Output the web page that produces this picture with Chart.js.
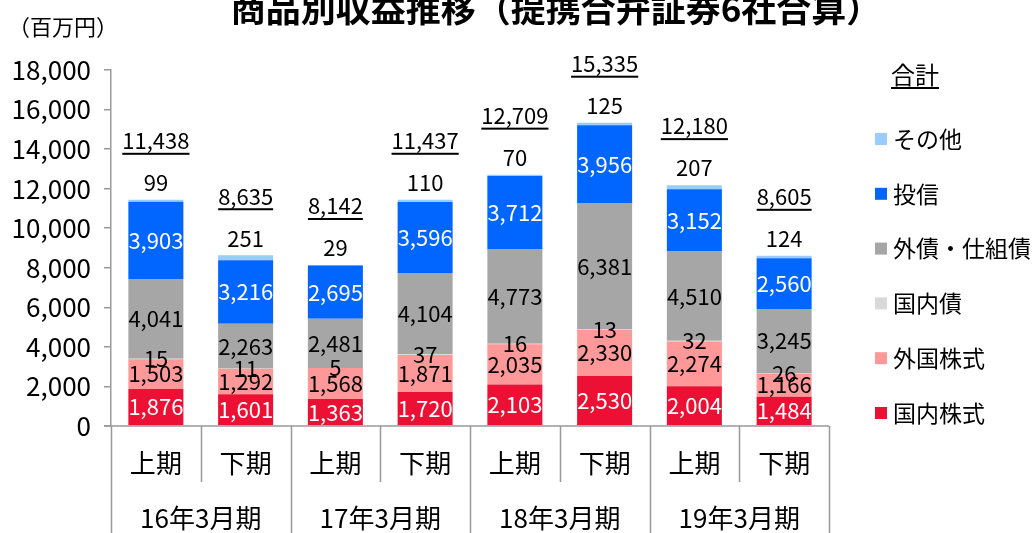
<!DOCTYPE html>
<html lang="ja">
<head>
<meta charset="utf-8">
<script src="https://cdn.jsdelivr.net/npm/chart.js@4"></script>
<style>
  body { margin: 0; background: #fff; }
  #wrap { width: 1034px; height: 533px; position: relative; }
</style>
</head>
<body>
<div id="wrap"><canvas id="revChart"></canvas></div>
<script>
const halves = ['上期', '下期', '上期', '下期', '上期', '下期', '上期', '下期'];
const years = ['16年3月期', '17年3月期', '18年3月期', '19年3月期'];

const domesticStock = [1876, 1601, 1363, 1720, 2103, 2530, 2004, 1484];
const foreignStock = [1503, 1292, 1568, 1871, 2035, 2330, 2274, 1166];
const domesticBond = [15, 11, 5, 37, 16, 13, 32, 26];
const foreignBond = [4041, 2263, 2481, 4104, 4773, 6381, 4510, 3245];
const investTrust = [3903, 3216, 2695, 3596, 3712, 3956, 3152, 2560];
const others = [99, 251, 29, 110, 70, 125, 207, 124];
const totals = [11438, 8635, 8142, 11437, 12709, 15335, 12180, 8605];

const yTicks = [0, 2000, 4000, 6000, 8000, 10000, 12000, 14000, 16000, 18000];

const FONT = '"Noto Sans CJK JP", "Noto Sans", sans-serif';
const fmt = v => v.toLocaleString('en-US');

const series = [
    { label: '国内株式', data: domesticStock, color: '#EC1034', text: '#fff' },
    { label: '外国株式', data: foreignStock, color: '#FF9999', text: '#000' },
    { label: '国内債', data: domesticBond, color: '#D9D9D9', text: '#000' },
    { label: '外債・仕組債', data: foreignBond, color: '#A6A6A6', text: '#000' },
    { label: '投信', data: investTrust, color: '#0066FF', text: '#fff' },
    { label: 'その他', data: others, color: '#99CCFF', text: '#000' }
];

function underlined(ctx, text, x, y) {
    ctx.fillText(text, x, y);
    const w = ctx.measureText(text).width;
    ctx.fillRect(x - w / 2, y + 12, w, 2);
}

const decorations = {
    id: 'decorations',
    afterDatasetsDraw(chart) {
        const ctx = chart.ctx;
        const area = chart.chartArea;
        const xs = chart.scales.x;
        ctx.save();
        ctx.textAlign = 'center';
        ctx.textBaseline = 'middle';

        // segment labels
        ctx.font = '22px ' + FONT;
        series.forEach((s, i) => {
            const meta = chart.getDatasetMeta(i);
            meta.data.forEach((el, j) => {
                if (i === series.length - 1) {
                    ctx.fillStyle = '#000';
                    ctx.fillText(fmt(s.data[j]), el.x, el.y - 17);
                    underlined(ctx, fmt(totals[j]), el.x, el.y - 59);
                } else {
                    ctx.fillStyle = s.text;
                    ctx.fillText(fmt(s.data[j]), el.x, (el.y + el.base) / 2);
                }
            });
        });

        // x axis line and separators
        ctx.strokeStyle = '#999';
        ctx.lineWidth = 1.5;
        ctx.beginPath();
        ctx.moveTo(area.left - 7, area.bottom);
        ctx.lineTo(area.right, area.bottom);
        const step = (area.right - area.left) / halves.length;
        for (let k = 0; k <= halves.length; k++) {
            const x = Math.round(area.left + k * step) + 0.5;
            ctx.moveTo(x, area.bottom);
            ctx.lineTo(x, k % 2 === 0 ? chart.height : area.bottom + 56);
        }
        ctx.stroke();

        ctx.fillStyle = '#000';
        ctx.font = '26px ' + FONT;
        halves.forEach((h, j) => {
            ctx.fillText(h, xs.getPixelForValue(j), area.bottom + 37);
        });
        years.forEach((y, k) => {
            const x = (xs.getPixelForValue(2 * k) + xs.getPixelForValue(2 * k + 1)) / 2;
            ctx.fillText(y, x, area.bottom + 92);
        });

        // title and unit
        ctx.font = 'bold 35px ' + FONT;
        ctx.fillText('商品別収益推移（提携合弁証券6社合算）', 556, 9);
        ctx.font = '22px ' + FONT;
        ctx.textAlign = 'left';
        ctx.fillText('（百万円）', 8, 27);

        // legend
        ctx.font = '24px ' + FONT;
        ctx.fillText('合計', 891, 75);
        ctx.fillRect(891, 87, ctx.measureText('合計').width, 2);
        ctx.font = '23px ' + FONT;
        const order = series.slice().reverse();
        order.forEach((s, k) => {
            const y = 139 + k * 54.8;
            ctx.fillStyle = s.color;
            ctx.fillRect(875, y - 6, 12, 12);
            ctx.fillStyle = '#000';
            ctx.fillText(s.label, 893, y);
        });
        ctx.restore();
    }
};

new Chart(document.getElementById('revChart'), {
    type: 'bar',
    data: {
        labels: halves,
        datasets: series.map(s => ({
            label: s.label,
            data: s.data,
            backgroundColor: s.color,
            barPercentage: 0.613,
            categoryPercentage: 1
        }))
    },
    options: {
        responsive: true,
        maintainAspectRatio: false,
        animation: false,
        layout: { padding: { top: 70, right: 205, bottom: 107, left: 0 } },
        plugins: {
            legend: { display: false },
            tooltip: { enabled: false }
        },
        scales: {
            x: { stacked: true, display: false },
            y: {
                stacked: true,
                min: 0,
                max: 18000,
                afterBuildTicks: axis => { axis.ticks = yTicks.map(v => ({ value: v })); },
                afterFit: axis => { axis.width = 111; },
                border: { color: '#999', width: 1.5 },
                grid: { drawOnChartArea: false, drawTicks: true, tickLength: 7, color: '#999', lineWidth: 1.5 },
                ticks: {
                    color: '#000',
                    padding: 13,
                    font: { family: FONT, size: 26 },
                    callback: v => fmt(v)
                }
            }
        }
    },
    plugins: [decorations]
});
</script>
</body>
</html>
